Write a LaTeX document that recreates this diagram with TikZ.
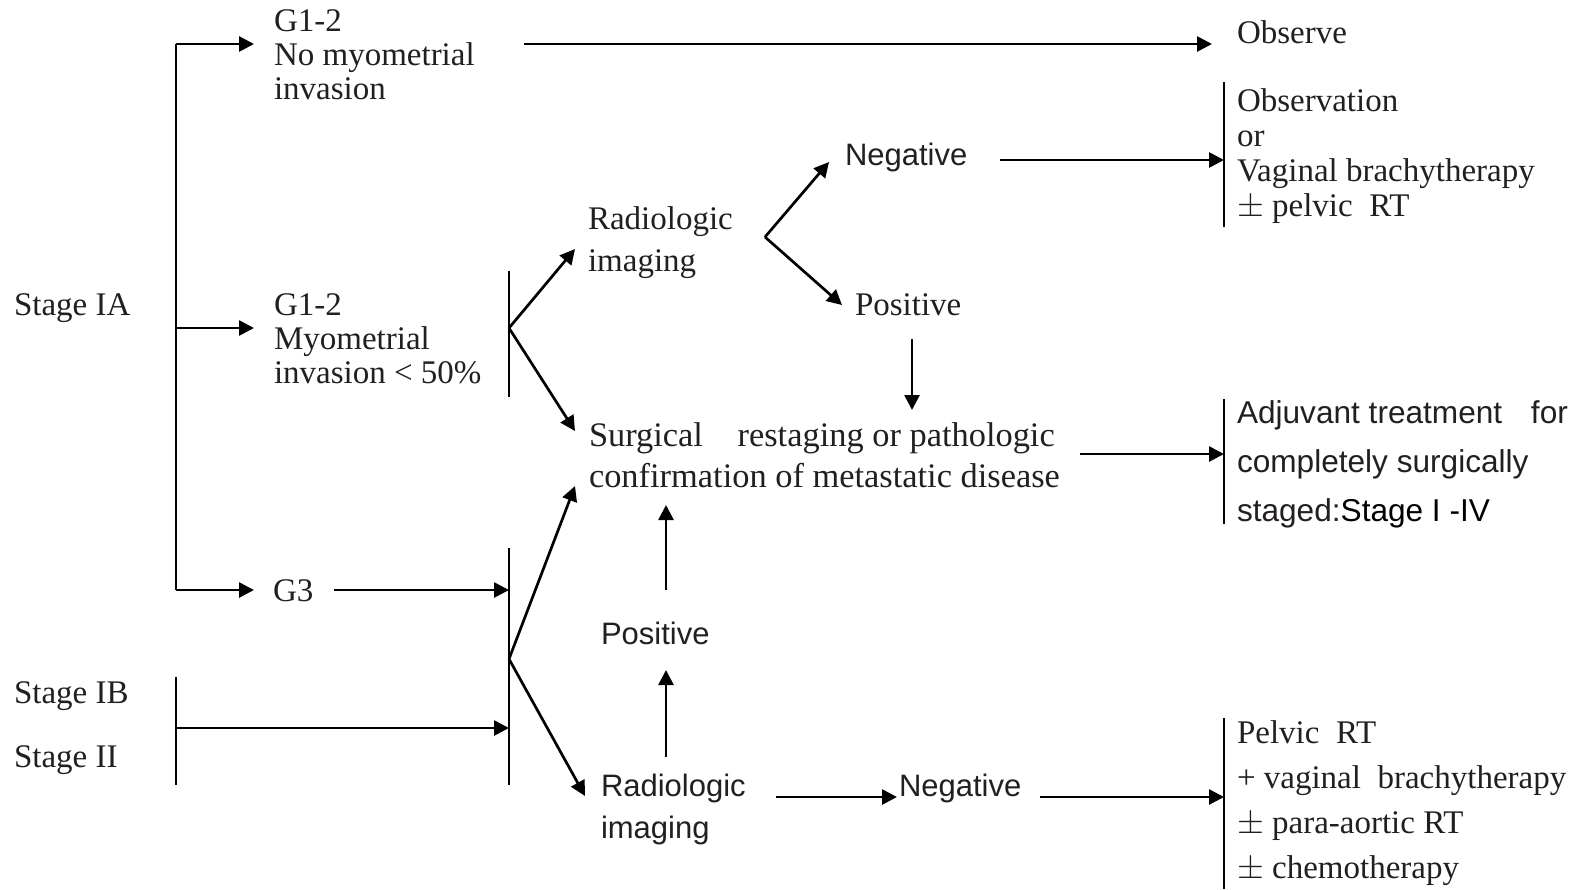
\documentclass[tikz,border=0pt]{standalone}
\usepackage{fontspec}
\setmainfont{Liberation Serif}
\newfontfamily\sansf{Liberation Sans}
\usetikzlibrary{arrows.meta}
\definecolor{txtc}{HTML}{231F20}
\begin{document}
\begin{tikzpicture}[x=0.5pt,y=-0.5pt,
  txt/.style={anchor=base west, inner sep=0pt, outer sep=0pt, align=left, text=txtc},
  sr/.style={txt, font=\fontsize{16.5}{#1}\selectfont},
  sr/.default=17,
  ss/.style={txt, font=\sansf\fontsize{15.5}{#1}\selectfont},
  ss/.default=21,
  ar/.style={line width=1.35pt, -{Triangle[length=7.5pt,width=7.5pt]}},
  ln/.style={line width=1.35pt},
  bar/.style={line width=1pt}]
\useasboundingbox (0,0) rectangle (1573,889);

% ---------- text nodes (anchored at the baseline of the last line) ----------
\node[sr] (sIA) at (14,315) {Stage IA};
\node[sr=17] (g12a) at (274,99) {G1-2\\No myometrial\\invasion};
\node[sr=17] (g12b) at (274,383) {G1-2\\Myometrial\\invasion < 50\%};
\node[sr] (g3) at (273,601) {G3};
\node[sr] (sIB) at (14,703) {Stage IB};
\node[sr] (sII) at (14,767) {Stage II};
\node[sr=21] (rad1) at (588,271) {Radiologic\\imaging};
\node[ss] (neg1) at (845,165) {Negative};
\node[sr] (pos1) at (855,315) {Positive};
\node[txt, font=\fontsize{17.2}{20.5}\selectfont] (surg) at (589,487) {Surgical\hspace{13pt} restaging or pathologic\\confirmation of metastatic disease};
\node[sr] (obs) at (1237,43) {Observe};
\node[sr=17.5] (obsv) at (1237,216) {Observation\\or\\Vaginal brachytherapy\\\(\pm\) pelvic\ \ RT};
\node[txt, font=\sansf\fontsize{15.8}{24.5}\selectfont] (adj) at (1237,521) {Adjuvant treatment\hspace{10pt} for\\completely surgically\\staged:\textcolor{black}{Stage I -IV}};
\node[ss] (pos2) at (601,644) {Positive};
\node[ss=21] (rad2) at (601,838) {Radiologic\\imaging};
\node[ss] (neg2) at (899,796) {Negative};
\node[sr=22.5] (pelv) at (1237,878) {Pelvic\ \ RT\\+ vaginal\ \ brachytherapy\\\(\pm\) para-aortic RT\\\(\pm\) chemotherapy};

% ---------- coordinates ----------
\coordinate (brTop) at (176,44);
\coordinate (brMid) at (176,328);
\coordinate (brBot) at (176,590);
\coordinate (g12aL) at (254,44);
\coordinate (g12bL) at (254,328);
\coordinate (g3L) at (254,590);
\coordinate (g12aR) at (524,44);
\coordinate (obsL) at (1212,44);

\coordinate (barAt) at (509,271);
\coordinate (barAb) at (509,397);
\coordinate (barAm) at (509,328);
\coordinate (rad1L) at (575,249);
\coordinate (surgTL) at (575,431);

\coordinate (vx1) at (765,237);
\coordinate (neg1L) at (829,162);
\coordinate (pos1L) at (842,305);

\coordinate (pos1B) at (912,339);
\coordinate (surgT) at (912,410);

\coordinate (neg1R) at (1000,160);
\coordinate (rb1t) at (1224,82);
\coordinate (rb1b) at (1224,227);
\coordinate (rb1m) at (1224,160);

\coordinate (surgR) at (1080,454);
\coordinate (rb2t) at (1224,399);
\coordinate (rb2b) at (1224,524);
\coordinate (rb2m) at (1224,454);

\coordinate (g3R) at (334,590);
\coordinate (barBt) at (509,548);
\coordinate (barBb) at (509,785);
\coordinate (barBg) at (509,590);
\coordinate (barBs) at (509,728);
\coordinate (vx2) at (509,659);
\coordinate (surgBL) at (575,486);
\coordinate (rad2L) at (585,796);

\coordinate (brIBt) at (176,677);
\coordinate (brIBb) at (176,785);
\coordinate (brIBm) at (176,728);

\coordinate (pos2T) at (666,590);
\coordinate (surgB) at (666,505);
\coordinate (rad2T) at (666,757);
\coordinate (pos2B) at (666,670);

\coordinate (rad2R) at (776,797);
\coordinate (neg2L) at (897,797);
\coordinate (neg2R) at (1040,797);
\coordinate (rb3t) at (1224,718);
\coordinate (rb3b) at (1224,889);
\coordinate (rb3m) at (1224,797);

% ---------- connectors ----------
\draw[ln] (brTop) -- (brBot);
\draw[ar] (brTop) -- (g12aL);
\draw[ar] (brMid) -- (g12bL);
\draw[ar] (brBot) -- (g3L);
\draw[ar] (g12aR) -- (obsL);

\draw[bar] (barAt) -- (barAb);
\draw[ar] (barAm) -- (rad1L);
\draw[ar] (barAm) -- (surgTL);

\draw[ar] (vx1) -- (neg1L);
\draw[ar] (vx1) -- (pos1L);
\draw[ar] (pos1B) -- (surgT);

\draw[ar] (neg1R) -- (rb1m);
\draw[bar] (rb1t) -- (rb1b);
\draw[ar] (surgR) -- (rb2m);
\draw[bar] (rb2t) -- (rb2b);

\draw[ar] (g3R) -- (barBg);
\draw[bar] (barBt) -- (barBb);
\draw[bar] (brIBt) -- (brIBb);
\draw[ar] (brIBm) -- (barBs);
\draw[ar] (vx2) -- (surgBL);
\draw[ar] (vx2) -- (rad2L);

\draw[ar] (pos2T) -- (surgB);
\draw[ar] (rad2T) -- (pos2B);
\draw[ar] (rad2R) -- (neg2L);
\draw[ar] (neg2R) -- (rb3m);
\draw[bar] (rb3t) -- (rb3b);
\end{tikzpicture}
\end{document}
